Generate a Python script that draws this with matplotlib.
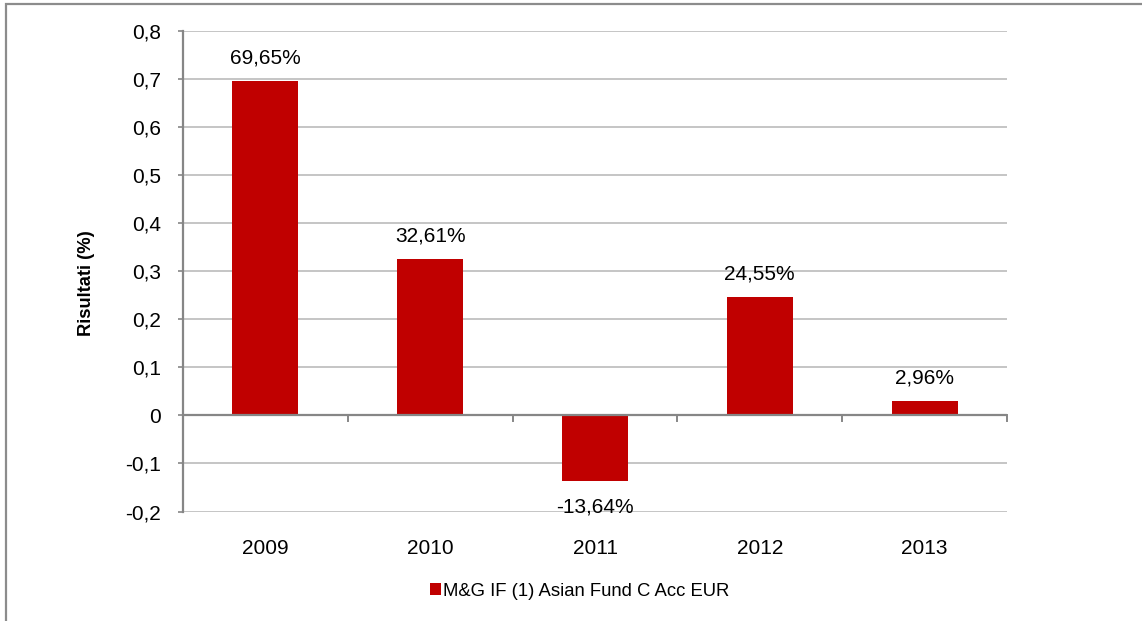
import matplotlib
matplotlib.use("Agg")
import matplotlib.pyplot as plt
from matplotlib.patches import Rectangle, Patch

plt.rcParams['font.family'] = ['Liberation Sans', 'DejaVu Sans']

years = ["2009", "2010", "2011", "2012", "2013"]
values = [0.6965, 0.3261, -0.1364, 0.2455, 0.0296]
labels = ["69,65%", "32,61%", "-13,64%", "24,55%", "2,96%"]
yticks = [-0.2, -0.1, 0, 0.1, 0.2, 0.3, 0.4, 0.5, 0.6, 0.7, 0.8]
ytick_labels = ["-0,2", "-0,1", "0", "0,1", "0,2", "0,3", "0,4", "0,5", "0,6", "0,7", "0,8"]
series_name = "M&G IF (1) Asian Fund C Acc EUR"

W, H = 1142, 621
fig = plt.figure(figsize=(W / 100, H / 100), dpi=100)
fig.patch.set_facecolor('white')

# outer border
fig.patches.append(Rectangle((6 / W, -0.1), 1.2, 1.1 - 4 / H, transform=fig.transFigure,
                             fill=False, edgecolor='#8c8c8c', linewidth=1.6))

left, right, top, bottom = 183, 1007, 31, 511.5
ax = fig.add_axes([left / W, 1 - bottom / H, (right - left) / W, (bottom - top) / H])

bar_color = '#C00000'
x = list(range(len(years)))
ax.bar(x, values, width=0.4, color=bar_color, zorder=3)

ax.set_xlim(-0.5, len(years) - 0.5)
ax.set_ylim(-0.2, 0.8)
ax.set_yticks(yticks)
ax.set_yticklabels(ytick_labels, fontsize=15)
ax.tick_params(axis='y', length=3.6, width=1.2, color='#868686', pad=12)
ax.yaxis.grid(True, color='#c0c0c0', linewidth=1.3, zorder=0)
ax.set_axisbelow(True)

for s in ['top', 'right', 'bottom']:
    ax.spines[s].set_visible(False)
ax.spines['left'].set_color('#868686')
ax.spines['left'].set_linewidth(1.6)

# category axis at zero
ax.axhline(0, color='#868686', linewidth=1.6, zorder=4)
ax.set_xticks([])
bounds = [i - 0.5 for i in range(len(years) + 1)]
for b in bounds:
    ax.plot([b, b], [0, -0.011], color='#868686', linewidth=1.4, zorder=4, clip_on=False)

# category labels at bottom
for xi, yr in zip(x, years):
    ax.text(xi, -0.2 - 36.5 / 480, yr, ha='center', va='center', fontsize=15)

# value labels
for xi, v, lab in zip(x, values, labels):
    off = 16.6 if v >= 0 else -18.5
    ax.annotate(lab, xy=(xi, v), xytext=(0, off), textcoords='offset points',
                ha='center', va='center', fontsize=15)

ax.set_ylabel("Risultati (%)", fontsize=13.2, fontweight='bold')
ax.yaxis.set_label_coords((95 - left) / (right - left), (bottom - 283) / (bottom - top))

handle = Patch(facecolor=bar_color, edgecolor='none')
fig.legend([handle], [series_name], loc='center', bbox_to_anchor=(580 / W, 1 - 591 / H),
           frameon=False, fontsize=13.3, handlelength=0.55, handleheight=0.55,
           handletextpad=0.15, borderpad=0, borderaxespad=0)

fig.savefig('out.png', dpi=100, facecolor='white')
